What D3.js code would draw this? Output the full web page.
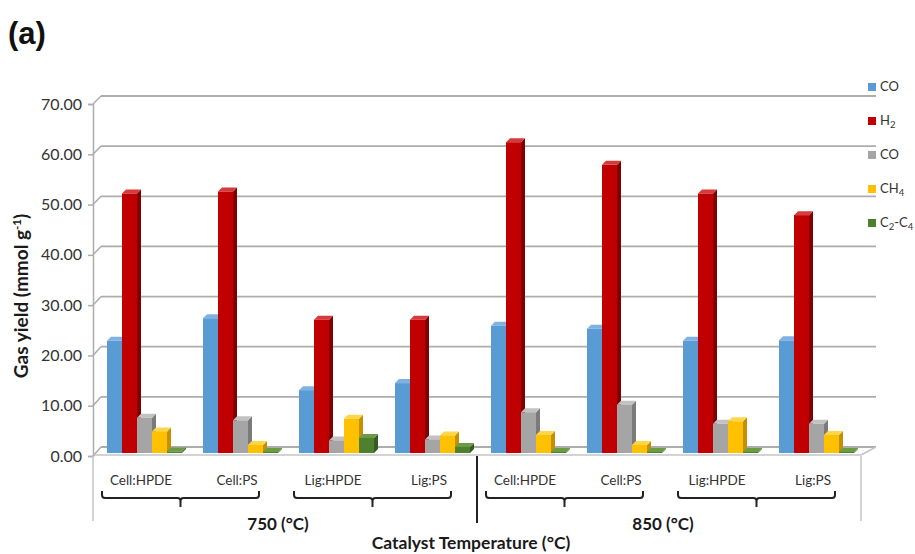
<!DOCTYPE html>
<html>
<head>
<meta charset="utf-8">
<script src="https://cdn.jsdelivr.net/npm/d3@7"></script>
<style>
  body { margin: 0; background: #fff; }
  svg { font-family: Lato, "Open Sans", sans-serif; }
</style>
</head>
<body>
<svg id="chart" width="915" height="554"></svg>
<script>
// data
const temps = ["750 (°C)", "850 (°C)"];
const categories = ["Cell:HPDE", "Cell:PS", "Lig:HPDE", "Lig:PS"];
const seriesKeys = ["co", "h2", "co2", "ch4", "c2c4"];
const coBlue = [22.3, 26.8, 12.5, 13.9, 25.3, 24.7, 22.3, 22.4];
const h2 = [51.6, 52.0, 26.5, 26.5, 61.8, 57.3, 51.6, 47.3];
const coGrey = [7.0, 6.5, 2.5, 2.7, 8.1, 9.6, 5.8, 5.8];
const ch4 = [4.3, 1.6, 6.8, 3.5, 3.6, 1.6, 6.3, 3.6];
const c2c4 = [0.3, 0.2, 3.0, 1.2, 0.2, 0.2, 0.2, 0.2];
const yTicks = [0, 10, 20, 30, 40, 50, 60, 70];

const seriesValues = { co: coBlue, h2: h2, co2: coGrey, ch4: ch4, c2c4: c2c4 };
const colors = {
  co:   { front: "#5b9bd5", top: "#7fb2e3", side: "#3f7cb8" },
  h2:   { front: "#c00000", top: "#d63a3a", side: "#7f0000" },
  co2:  { front: "#a5a5a5", top: "#c2c2c2", side: "#7a7a7a" },
  ch4:  { front: "#ffc000", top: "#ffd54a", side: "#c49000" },
  c2c4: { front: "#4f8030", top: "#6b9c45", side: "#365a1f" }
};

// slots = every temp x category
const slots = [];
temps.forEach(t => categories.forEach(c => slots.push(t + "|" + c)));

const svg = d3.select("#chart");
const dx = 8;              // wall depth
const bdx = 4, bdy = 4;    // bar depth
const axisX = 93;

const x = d3.scaleBand().domain(slots).range([93, 861]);
const xInner = d3.scaleBand().domain(seriesKeys).range([14, 89]);
const yFront = d3.scaleLinear().domain([0, 70]).range([456, 104]);
const yBack = d3.scaleLinear().domain([0, 70]).range([447, 96]);
const yBar = d3.scaleLinear().domain([0, 70]).range([453, 101]);

// gridlines on the back wall
svg.append("g").selectAll("line").data(yTicks).join("line")
  .attr("x1", axisX + dx).attr("x2", 876)
  .attr("y1", d => yBack(d)).attr("y2", d => yBack(d))
  .attr("stroke", "#adadad").attr("stroke-width", 1.8);

// diagonals from front axis to back wall
svg.append("g").selectAll("line").data(yTicks).join("line")
  .attr("x1", axisX).attr("x2", axisX + dx)
  .attr("y1", d => yFront(d)).attr("y2", d => yBack(d))
  .attr("stroke", "#adadad").attr("stroke-width", 1.5);

// floor front edge and right edge
svg.append("line").attr("x1", axisX).attr("x2", 861)
  .attr("y1", 455).attr("y2", 455)
  .attr("stroke", "#c4c4c4").attr("stroke-width", 1.5);
svg.append("line").attr("x1", 861).attr("x2", 876)
  .attr("y1", 455).attr("y2", yBack(0))
  .attr("stroke", "#c4c4c4").attr("stroke-width", 1.5);

// front y axis
const yAxis = svg.append("g").attr("transform", `translate(${axisX},0)`)
  .call(d3.axisLeft(yFront).tickValues(yTicks).tickFormat(d3.format(".2f")).tickSize(5).tickPadding(6));
yAxis.select(".domain").attr("stroke", "#adadad").attr("stroke-width", 1.5);
yAxis.selectAll(".tick line").attr("stroke", "#adadad").attr("stroke-width", 1.5);
yAxis.selectAll(".tick text").attr("fill", "#333").attr("font-size", 16).attr("font-family", "Lato");

// bars
const barData = [];
slots.forEach((s, i) => seriesKeys.forEach(k => barData.push({ slot: s, key: k, v: seriesValues[k][i] })));

const bars = svg.append("g").selectAll("g").data(barData).join("g");
bars.each(function(d) {
  const g = d3.select(this);
  const x0 = x(d.slot) + xInner(d.key);
  const w = xInner.bandwidth();
  const y0 = yBar(0), y1 = yBar(d.v);
  const c = colors[d.key];
  g.append("path")
    .attr("d", `M${x0 + w},${y1}L${x0 + w + bdx},${y1 - bdy}L${x0 + w + bdx},${y0 - bdy}L${x0 + w},${y0}Z`)
    .attr("fill", c.side);
  g.append("path")
    .attr("d", `M${x0},${y1}L${x0 + bdx},${y1 - bdy}L${x0 + w + bdx},${y1 - bdy}L${x0 + w},${y1}Z`)
    .attr("fill", c.top);
  g.append("rect").attr("x", x0).attr("y", y1).attr("width", w).attr("height", y0 - y1)
    .attr("fill", c.front);
});

// category labels under the floor
svg.append("g").selectAll("text").data(slots).join("text")
  .attr("x", d => x(d) + x.bandwidth() / 2)
  .attr("y", 485)
  .attr("text-anchor", "middle")
  .attr("font-size", 13.5).attr("fill", "#333")
  .text(d => d.split("|")[1]);

// vertical separators below floor
svg.append("g").selectAll("line").data([93, 861]).join("line")
  .attr("x1", d => d).attr("x2", d => d).attr("y1", 456).attr("y2", 521)
  .attr("stroke", "#c4c4c4").attr("stroke-width", 1.5);
svg.append("line").attr("x1", 477).attr("x2", 477).attr("y1", 456).attr("y2", 523)
  .attr("stroke", "#222").attr("stroke-width", 2);

// braces, each spans two categories
const pairs = [];
temps.forEach(t => {
  pairs.push([t + "|" + categories[0], t + "|" + categories[1]]);
  pairs.push([t + "|" + categories[2], t + "|" + categories[3]]);
});
const brace = svg.append("g").attr("fill", "none").attr("stroke", "#222").attr("stroke-width", 2);
pairs.forEach(p => {
  const a = x(p[0]) + 9, b = x(p[1]) + x.bandwidth() - 26;
  const m = (a + b) / 2;
  brace.append("path")
    .attr("d", `M${a},491L${a},495Q${a},498 ${a + 3},498L${m - 3},498Q${m},498 ${m},501L${m},507M${m},501Q${m},498 ${m + 3},498L${b - 3},498Q${b},498 ${b},495L${b},491`);
});

// temperature labels
svg.append("g").selectAll("text").data(temps).join("text")
  .attr("x", (d, i) => i === 0 ? 278 : 663)
  .attr("y", 530)
  .attr("text-anchor", "middle")
  .attr("font-size", 17).attr("font-weight", "bold").attr("fill", "#1a1a1a")
  .text(d => d);

svg.append("text").attr("x", 471).attr("y", 549).attr("text-anchor", "middle")
  .attr("font-size", 17.5).attr("font-weight", "bold").attr("fill", "#1a1a1a")
  .text("Catalyst Temperature (°C)");

// y title
const yt = svg.append("text").attr("transform", "translate(28,296) rotate(-90)")
  .attr("text-anchor", "middle").attr("font-size", 19).attr("font-weight", "bold").attr("fill", "#1a1a1a");
yt.append("tspan").text("Gas yield (mmol g");
yt.append("tspan").attr("font-size", 11.5).attr("dy", -7).text("-1");
yt.append("tspan").attr("dy", 7).text(")");

// panel letter
svg.append("text").attr("x", 8).attr("y", 44).attr("font-size", 31).attr("font-weight", "bold")
  .attr("font-family", "Liberation Sans, Arial").attr("fill", "#111").text("(a)");

// legend
const legendItems = [
  { key: "co", parts: [["CO", 0]] },
  { key: "h2", parts: [["H", 0], ["2", 1]] },
  { key: "co2", parts: [["CO", 0]] },
  { key: "ch4", parts: [["CH", 0], ["4", 1]] },
  { key: "c2c4", parts: [["C", 0], ["2", 1], ["-C", 0], ["4", 1]] }
];
const lg = svg.append("g").selectAll("g").data(legendItems).join("g")
  .attr("transform", (d, i) => `translate(868,${83 + i * 34})`);
lg.append("rect").attr("width", 8).attr("height", 8).attr("fill", d => colors[d.key].front);
const lt = lg.append("text").attr("x", 12).attr("y", 8).attr("font-size", 13).attr("fill", "#333");
lt.each(function(d) {
  const t = d3.select(this);
  d.parts.forEach(p => {
    t.append("tspan").attr("font-size", p[1] ? 9.5 : 13)
      .attr("baseline-shift", p[1] ? "-25%" : null)
      .text(p[0]);
  });
});
</script>
</body>
</html>
